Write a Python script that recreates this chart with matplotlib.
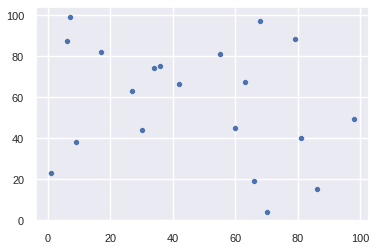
import matplotlib
matplotlib.use("Agg")
import matplotlib.pyplot as plt
import seaborn as sns

# --- Data ---
x_vals = [1, 6, 7, 9, 17, 27, 30, 34, 36, 42, 55, 60, 63, 66, 68, 70, 79, 81, 86, 98]
y_vals = [23, 87, 99, 38, 82, 63, 44, 74, 75, 66, 81, 45, 67, 19, 97, 4, 88, 40, 15, 49]

sns.set_theme()
plt.rcParams['font.family'] = ['Liberation Sans', 'DejaVu Sans']

# --- Figure setup ---
fig = plt.figure(figsize=(3.77, 2.51), dpi=100)
ax = fig.add_axes([0.0955, 0.114, 0.884, 0.854])

sns.scatterplot(x=x_vals, y=y_vals, ax=ax, s=19, color="#4c72b0",
                edgecolor="white", linewidth=0.4)

ax.set_xticks([0, 20, 40, 60, 80, 100])
ax.set_yticks([0, 20, 40, 60, 80, 100])
ax.tick_params(labelsize=7.9, colors="#262626", pad=2.5)

fig.savefig("out.png", dpi=100)
